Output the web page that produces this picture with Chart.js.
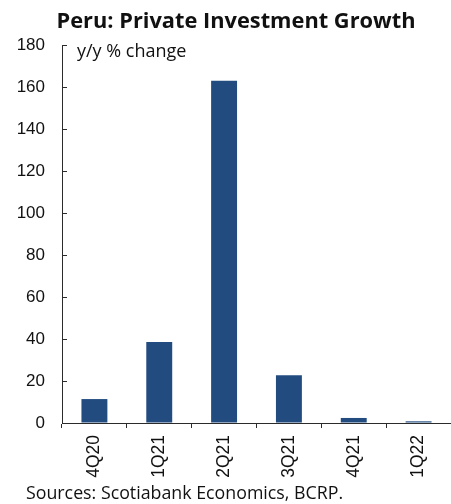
<!DOCTYPE html>
<html>
<head>
<meta charset="utf-8">
<title>Peru: Private Investment Growth</title>
<script src="https://cdn.jsdelivr.net/npm/chart.js@4.4.1/dist/chart.umd.min.js"></script>
<style>
    html, body { margin: 0; padding: 0; background: #fff; overflow: hidden; }
    #wrap { position: relative; width: 451px; height: 504px; }
</style>
</head>
<body>
<div id="wrap"><canvas id="chart" width="451" height="504"></canvas></div>
<script>
// ============================================
// Data
// ============================================
const quarters = ['4Q20', '1Q21', '2Q21', '3Q21', '4Q21', '1Q22'];
const growth = [11.4, 38.6, 163.0, 22.7, 2.4, 0.8];
const yTicks = [0, 20, 40, 60, 80, 100, 120, 140, 160, 180];

const chartTitle = 'Peru: Private Investment Growth';
const unitLabel = 'y/y % change';
const sourceNote = 'Sources: Scotiabank Economics, BCRP.';

const axisColor = '#2b2b2b';
const barColor = '#224c80';

// ============================================
// Text drawn around the plot (title, unit, sources)
// ============================================
const textPlugin = {
    id: 'chartText',
    afterDraw(chart) {
        const ctx = chart.ctx;
        const area = chart.chartArea;
        ctx.save();
        ctx.fillStyle = '#111';
        ctx.textBaseline = 'alphabetic';

        ctx.font = 'bold 21.8px "Open Sans", "Noto Sans", sans-serif';
        ctx.textAlign = 'center';
        ctx.fillText(chartTitle, 236, 28);

        ctx.font = '18px "Open Sans", "Noto Sans", sans-serif';
        ctx.textAlign = 'left';
        ctx.fillText(unitLabel, area.left + 15, 57);

        ctx.font = '17.8px "Open Sans", "Noto Sans", sans-serif';
        ctx.fillText(sourceNote, 26, 499);
        ctx.restore();
    }
};

new Chart(document.getElementById('chart'), {
    type: 'bar',
    data: {
        labels: quarters,
        datasets: [{
            data: growth,
            backgroundColor: barColor,
            borderWidth: 0,
            categoryPercentage: 1.0,
            barPercentage: 0.4
        }]
    },
    options: {
        responsive: false,
        animation: false,
        layout: { padding: { top: 45, left: 0, right: 0, bottom: 0 } },
        plugins: {
            legend: { display: false },
            title: { display: false },
            tooltip: { enabled: false }
        },
        scales: {
            x: {
                afterFit(scale) { scale.height = 81; },
                border: { display: true, color: axisColor, width: 1 },
                grid: {
                    offset: true,
                    drawOnChartArea: false,
                    drawTicks: true,
                    tickLength: 5,
                    color: axisColor
                },
                ticks: {
                    minRotation: 90,
                    maxRotation: 90,
                    padding: 7,
                    color: '#111',
                    font: { family: '"Liberation Sans", Arial, sans-serif', size: 17.5 }
                }
            },
            y: {
                min: 0,
                max: 180,
                afterFit(scale) { scale.width = 62; },
                afterBuildTicks(scale) {
                    scale.ticks = yTicks.map(v => ({ value: v }));
                },
                border: { display: true, color: axisColor, width: 1 },
                grid: {
                    drawOnChartArea: false,
                    drawTicks: true,
                    tickLength: -5,
                    color: axisColor
                },
                ticks: {
                    padding: 22,
                    color: '#111',
                    font: { family: '"Liberation Sans", Arial, sans-serif', size: 17 }
                }
            }
        }
    },
    plugins: [textPlugin]
});
</script>
</body>
</html>
